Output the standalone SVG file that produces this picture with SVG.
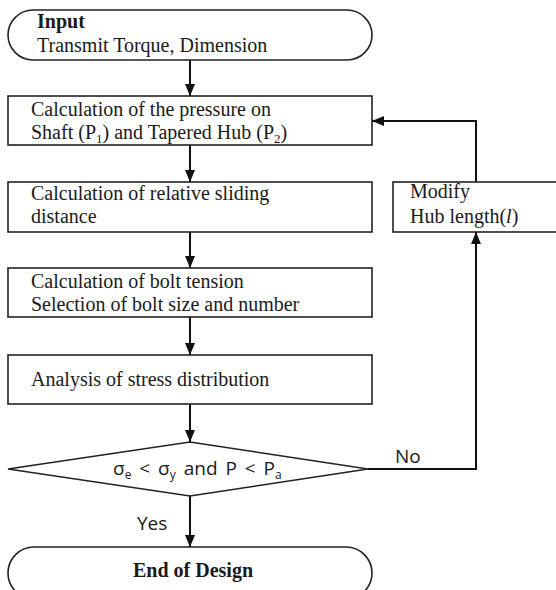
<svg xmlns="http://www.w3.org/2000/svg" width="556" height="590" viewBox="0 0 556 590">
<defs>
<marker id="ah" markerUnits="userSpaceOnUse" markerWidth="12" markerHeight="10" viewBox="0 0 12 10" refX="12" refY="5" orient="auto">
<path d="M0,0 L12,5 L0,10 z" fill="#111"/>
</marker>
</defs>
<style>
.shape{fill:#fff;stroke:#222;stroke-width:1.6}
.serif{font-family:"Liberation Serif","Times New Roman",serif;font-size:20px;fill:#1a1a1a}
.bold{font-weight:bold}
.sans{font-family:"Open Sans","Noto Sans",sans-serif;font-size:19px;fill:#1a1a1a}
.cond{word-spacing:3px}
.conn{fill:none;stroke:#111;stroke-width:2;marker-end:url(#ah)}
</style>
<rect width="556" height="590" fill="#fff"/>
<g id="connectors">
<line class="conn" x1="190" y1="60" x2="190" y2="96"/>
<line class="conn" x1="190" y1="145" x2="190" y2="182"/>
<line class="conn" x1="190" y1="232" x2="190" y2="268"/>
<line class="conn" x1="190" y1="317" x2="190" y2="355"/>
<line class="conn" x1="190" y1="404" x2="190" y2="442"/>
<line class="conn" x1="190" y1="496" x2="190" y2="547"/>
<polyline class="conn" points="368,469 476,469 476,232"/>
<polyline class="conn" points="476,182 476,121 372,121"/>
<text class="sans" x="395" y="463">No</text>
<text class="sans" x="137" y="530">Yes</text>
</g>
<g id="input">
<rect class="shape" x="8" y="10" width="364" height="50" rx="25" ry="25"/>
<text class="serif bold" x="37" y="28">Input</text>
<text class="serif" x="37" y="52">Transmit Torque, Dimension</text>
</g>
<g id="pressure">
<rect class="shape" x="8" y="96" width="364" height="49"/>
<text class="serif" x="31" y="116">Calculation of the pressure on</text>
<text class="serif" x="31" y="139">Shaft (P<tspan font-size="13" dy="4">1</tspan><tspan dy="-4">) and Tapered Hub (P</tspan><tspan font-size="13" dy="4">2</tspan><tspan dy="-4">)</tspan></text>
</g>
<g id="sliding">
<rect class="shape" x="8" y="182" width="364" height="50"/>
<text class="serif" x="31" y="200">Calculation of relative sliding</text>
<text class="serif" x="31" y="223">distance</text>
</g>
<g id="bolt">
<rect class="shape" x="8" y="268" width="364" height="49"/>
<text class="serif" x="31" y="288">Calculation of bolt tension</text>
<text class="serif" x="31" y="311">Selection of bolt size and number</text>
</g>
<g id="stress">
<rect class="shape" x="8" y="355" width="364" height="49"/>
<text class="serif" x="31" y="386">Analysis of stress distribution</text>
</g>
<g id="check">
<polygon class="shape" points="190,442 368,469 190,496 8,469"/>
<text class="sans cond" x="113" y="475">σ<tspan font-size="12" dy="4">e</tspan><tspan dy="-4"> &lt; σ</tspan><tspan font-size="12" dy="4">y</tspan><tspan dy="-4"> and P &lt; P</tspan><tspan font-size="12" dy="4">a</tspan></text>
</g>
<g id="modify">
<rect class="shape" x="393" y="182" width="200" height="50"/>
<text class="serif" x="410" y="198">Modify</text>
<text class="serif" x="410" y="223">Hub length(<tspan font-style="italic">l</tspan>)</text>
</g>
<g id="end">
<rect class="shape" x="8" y="547" width="364" height="52" rx="26" ry="26"/>
<text class="serif bold" x="133" y="577">End of Design</text>
</g>
</svg>
